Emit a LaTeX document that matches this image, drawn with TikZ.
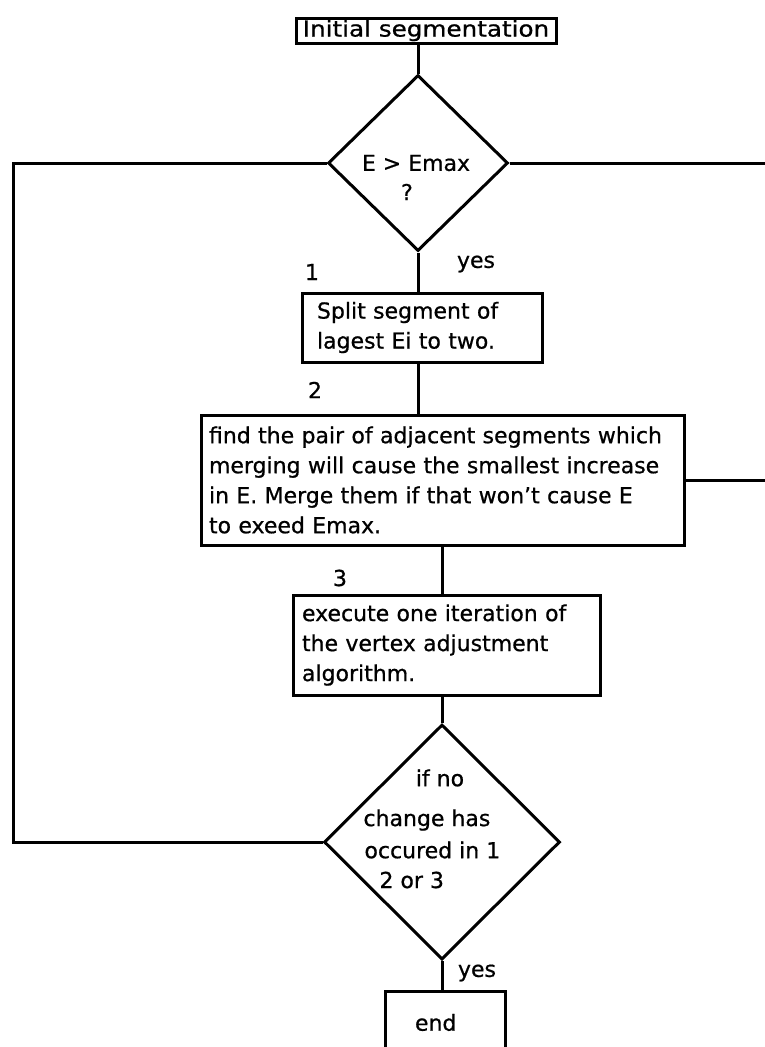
\documentclass[tikz,border=0pt]{standalone}
\usepackage{fontspec}
\setmainfont{DejaVu Sans}[FakeBold=0.7]
\usetikzlibrary{shapes.geometric}
\begin{document}
\begin{tikzpicture}[x=1pt,y=-1pt,line width=3pt,
  txt/.style={font=\fontsize{22}{30}\selectfont},
  box/.style={txt,draw,rectangle,inner ysep=0pt,align=left},
  decision/.style={draw,diamond,inner sep=0pt},
  lbl/.style={txt,inner sep=0pt}]
\useasboundingbox (0,0) rectangle (765,1047);

% process boxes
\node[box,minimum width=260pt,minimum height=25pt,inner xsep=0pt,align=center] (init) at (426,30.5)
  {\scalebox{1.12}[1]{Initial segmentation}};
\node[box,minimum width=240pt,minimum height=69pt,inner xsep=15pt,text width=210pt] (split) at (422,327.5)
  {Split segment of\\lagest Ei to two.};
\node[box,minimum width=483pt,minimum height=130pt,inner xsep=8pt,text width=467pt] (merge) at (442.5,480)
  {find the pair of adjacent segments which\\merging will cause the smallest increase\\in E. Merge them if that won't cause E\\to exeed Emax.};
\node[box,minimum width=307pt,minimum height=100pt,inner xsep=9pt,text width=289pt] (adjust) at (446.5,645)
  {execute one iteration of\\the vertex adjustment\\algorithm.};
\node[box,minimum width=120pt,minimum height=62pt,inner xsep=30pt,text width=60pt,anchor=north] (stop) at (445,990) {end};

% decisions
\node[decision,minimum width=180pt,minimum height=176pt] (test) at (418,163) {};
\node[decision,minimum width=236pt,minimum height=235pt] (done) at (442,842) {};

% decision texts
\node[lbl] (testa) at (416,163) {E > Emax};
\node[lbl] (testb) at (407,192) {?};
\node[lbl] (donea) at (440,778) {if no};
\node[lbl,anchor=west] (doneb) at (362,820) {change has};
\node[lbl,anchor=west] (donec) at (363,850) {occured in 1};
\node[lbl,anchor=west] (doned) at (378,880) {2 or 3};

% step numbers and branch labels
\node[lbl] (n1) at (312,272) {1};
\node[lbl] (yes1) at (476,264) {yes};
\node[lbl] (n2) at (315,390) {2};
\node[lbl] (n3) at (340,578) {3};
\node[lbl] (yes2) at (477,973) {yes};

% free ends of the loop lines
\coordinate (lt) at (13,163);
\coordinate (lb) at (13,842);
\coordinate (rt) at (765,163);
\coordinate (rm) at (765,480);

% connectors
\draw (test.north |- init.south) -- (test.north);
\draw (test.south) -- (test.south |- split.north);
\draw (test.south |- split.south) -- (test.south |- merge.north);
\draw (done.north |- merge.south) -- (done.north |- adjust.north);
\draw (done.north |- adjust.south) -- (done.north);
\draw (done.south) -- (done.south |- stop.north);
\draw (test.west) -- (lt) -- (lb) -- (done.west);
\draw (test.east) -- (rt);
\draw (merge.east) -- (rm);
\end{tikzpicture}
\end{document}
